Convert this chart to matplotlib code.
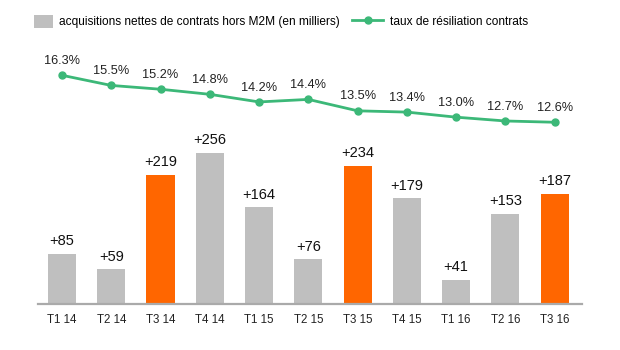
import matplotlib
matplotlib.use("Agg")
import matplotlib.pyplot as plt
from matplotlib.patches import Patch
from matplotlib.lines import Line2D

# données
trimestres = ["T1 14", "T2 14", "T3 14", "T4 14", "T1 15", "T2 15",
              "T3 15", "T4 15", "T1 16", "T2 16", "T3 16"]
acquisitions = [85, 59, 219, 256, 164, 76, 234, 179, 41, 153, 187]
resiliation = [16.3, 15.5, 15.2, 14.8, 14.2, 14.4, 13.5, 13.4, 13.0, 12.7, 12.6]
trimestres_t3 = ["T3 14", "T3 15", "T3 16"]

GRIS = "#bfbfbf"
ORANGE = "#ff6600"
VERT = "#3cb878"

plt.rcParams['font.family'] = ['Liberation Sans', 'DejaVu Sans']

fig = plt.figure(figsize=(6.2, 3.5), dpi=100)
ax = fig.add_axes([0.0613, 0.131, 0.877, 0.754])

x = list(range(len(trimestres)))
couleurs = [ORANGE if t in trimestres_t3 else GRIS for t in trimestres]
barres = ax.bar(x, acquisitions, width=0.57, color=couleurs, zorder=2)
ax.bar_label(barres, labels=[f"+{v}" for v in acquisitions],
             padding=4, fontsize=10.5, color="#111111")

ax.set_xlim(-0.487, 10.55)
ax.set_ylim(0, 447)
ax.set_xticks(x)
ax.set_xticklabels(trimestres, fontsize=8.3, color="#222222")
ax.tick_params(axis="x", length=0, pad=7)
ax.set_yticks([])
for s in ["top", "right", "left"]:
    ax.spines[s].set_visible(False)
ax.spines["bottom"].set_color("#aaaaaa")
ax.spines["bottom"].set_linewidth(1.6)

# courbe du taux de résiliation
ax2 = ax.twinx()
ax2.plot(x, resiliation, color=VERT, lw=2, marker="o", ms=5, zorder=3)
for xi, v in zip(x, resiliation):
    ax2.annotate(f"{v:.1f}%", (xi, v), xytext=(0, 6), textcoords="offset points",
                 ha="center", va="bottom", fontsize=9.2, color="#222222")
ax2.set_ylim(-1.73, 19.06)
ax2.set_yticks([])
for s in ax2.spines.values():
    s.set_visible(False)

# légende en deux morceaux
leg1 = fig.legend([Patch(facecolor=GRIS, edgecolor="none")],
                  ["acquisitions nettes de contrats hors M2M (en milliers)"],
                  loc="upper left", bbox_to_anchor=(0.055, 0.958),
                  frameon=False, fontsize=8.6, handlelength=1.55,
                  handleheight=1.3, handletextpad=0.5,
                  borderpad=0, borderaxespad=0)
leg2 = fig.legend([Line2D([0], [0], color=VERT, lw=2, marker="o", ms=5)],
                  ["taux de résiliation contrats"],
                  loc="upper left", bbox_to_anchor=(0.568, 0.958),
                  frameon=False, fontsize=8.6, handlelength=2.6,
                  handleheight=1.3, handletextpad=0.6,
                  borderpad=0, borderaxespad=0)

fig.savefig("out.png", dpi=100)
